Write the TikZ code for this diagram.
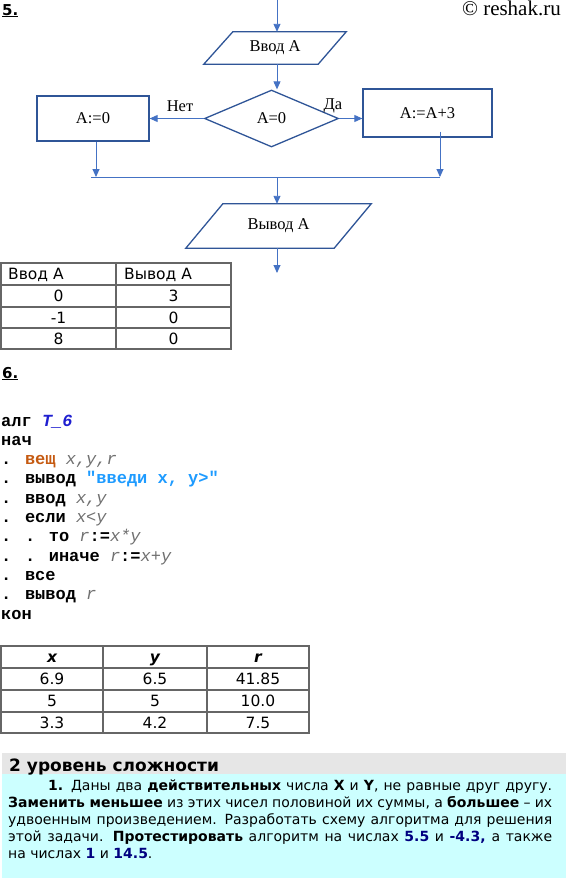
\documentclass[tikz,border=0pt]{standalone}
\usepackage{fontspec}
\setmainfont{Liberation Serif}
\newfontfamily\verdana{DejaVu Sans}
\newfontfamily\courier{Liberation Mono}
\usepackage{xcolor}
\usetikzlibrary{arrows.meta, shapes.geometric, positioning, calc}
\definecolor{flowdark}{HTML}{2F5597}
\definecolor{flowline}{HTML}{4472C4}
\definecolor{gridgray}{HTML}{666666}
\definecolor{kwbrown}{HTML}{C55A11}
\definecolor{algblue}{HTML}{1F1FD0}
\definecolor{strblue}{HTML}{1E9BFF}
\definecolor{vargray}{HTML}{707070}
\definecolor{numnavy}{HTML}{000080}
\definecolor{headgray}{HTML}{E6E6E6}
\definecolor{taskcyan}{HTML}{CCFFFF}
\newcommand{\kw}[1]{\textbf{#1}}
\newcommand{\var}[1]{{\color{vargray}\itshape #1}}
\newcommand{\num}[1]{{\color{numnavy}\bfseries #1}}

\begin{document}
\begin{tikzpicture}[x=1pt, y=-1pt,
    block/.style={rectangle, draw=flowdark, line width=1.3pt, inner sep=0pt},
    io/.style={rectangle, inner sep=0pt},
    iobox/.style={draw=flowdark, line width=1.3pt, line join=miter},
    decision/.style={diamond, draw=flowdark, line width=1.3pt, inner sep=0pt, minimum width=134pt, minimum height=57pt},
    flow/.style={-{Triangle[length=8pt, width=7pt]}, flowline, line width=0.9pt},
    joinline/.style={flowline, line width=0.9pt},
    cell/.style={font=\verdana\fontsize{15.5}{18}\selectfont, inner sep=0pt, text height=11pt, text depth=0pt},
    tabline/.style={draw=gridgray, line width=1.1pt},
    codeline/.style={anchor=base west, inner sep=0pt, font=\courier\fontsize{17}{19}\selectfont},
    task/.style={anchor=base west, inner sep=0pt, font=\verdana\fontsize{14}{17}\selectfont},
    font=\fontsize{16.5}{19}\selectfont]
\useasboundingbox (0,0) rectangle (566,878);

% task 5: flowchart
\node[anchor=base west, inner sep=0pt, font=\verdana\bfseries\fontsize{15}{18}\selectfont] (num5) at (2,15) {\underline{5.}};
\node[anchor=base east, inner sep=0pt, font=\fontsize{21}{24}\selectfont] (site) at (561,16) {© reshak.ru};

\node[io, minimum width=142pt, minimum height=32pt] (vvod) at (275,48) {Ввод А};
\draw[iobox] ($(vvod.north west)+(29,0)$) -- (vvod.north east) -- ($(vvod.south east)+(-28,0)$) -- (vvod.south west) -- cycle;
\node[decision] (test) at (271.5,118.5) {A=0};
\node[block, minimum width=112pt, minimum height=45pt] (zero) at (93,118.5) {A:=0};
\node[block, minimum width=129pt, minimum height=48pt] (plus) at (427.5,113) {A:=A+3};
\node[io, minimum width=185pt, minimum height=44pt] (vyvod) at (278.5,226) {Вывод А};
\draw[iobox] ($(vyvod.north west)+(37,0)$) -- (vyvod.north east) -- ($(vyvod.south east)+(-37,0)$) -- (vyvod.south west) -- cycle;
\node (no) at (180,106) {Нет};
\node (yes) at (333,106) {Да};

\coordinate (top) at (277,0);
\coordinate (mL) at (96,177);
\coordinate (mR) at (440,177);
\coordinate (mC) at (277,177);
\coordinate (jL) at (91,177);
\coordinate (fin) at (277,273);

\draw[flow] (top) -- (top |- vvod.north);
\draw[flow] (vvod.south -| top) -- (top |- test.north);
\draw[flow] (test.west) -- (zero.east);
\draw[flow] (test.east) -- (test.east -| plus.west);
\draw[flow] (zero.south -| mL) -- (mL);
\draw[flow] ($(plus.south -| mR)+(0,-6)$) -- (mR);
\draw[joinline] (jL) -- (mR);
\draw[flow] (mC) -- (mC |- vyvod.north);
\draw[flow] (vyvod.south -| mC) -- (fin);

% table for task 5
\draw[tabline] (1,263) rectangle (231,349);
\foreach \y in {285,307,328} \draw[tabline] (1,\y) -- (231,\y);
\draw[tabline] (116,263) -- (116,349);
\node[cell, anchor=west] (inh) at (8,274) {Ввод А};
\node[cell, anchor=west] (outh) at (124,274) {Вывод А};
\foreach \a/\b/\yy [count=\i] in {0/3/296, -1/0/317.5, 8/0/338.5} {
  \node[cell] (in\i) at (58.5,\yy) {\a};
  \node[cell] (out\i) at (173.5,\yy) {\b};
}

% task 6: algorithm
\node[anchor=base west, inner sep=0pt, font=\verdana\bfseries\fontsize{15}{18}\selectfont] (num6) at (2,378) {\underline{6.}};
\node[codeline] (l1) at (1,426) {\kw{алг} {\color{algblue}\bfseries\itshape T\_6}};
\node[codeline] (l2) at (1,445.3) {\kw{нач}};
\node[codeline] (l3) at (1,464.6) {\kw{.} {\color{kwbrown}\bfseries вещ} \var{x,y,r}};
\node[codeline] (l4) at (1,483.9) {\kw{. вывод} {\color{strblue}\bfseries "введи x, y>"}};
\node[codeline] (l5) at (1,503.2) {\kw{. ввод} \var{x,y}};
\node[codeline] (l6) at (1,522.5) {\kw{. если} \var{x<y}};
\node[codeline] (l7) at (1,541.8) {\kw{. . то} \var{r}\kw{:=}\var{x*y}};
\node[codeline] (l8) at (1,561.1) {\kw{. . иначе} \var{r}\kw{:=}\var{x+y}};
\node[codeline] (l9) at (1,580.4) {\kw{. все}};
\node[codeline] (l10) at (1,599.7) {\kw{. вывод} \var{r}};
\node[codeline] (l11) at (1,619) {\kw{кон}};

% table for task 6
\draw[tabline] (1,646) rectangle (309,733);
\foreach \y in {668,690,712} \draw[tabline] (1,\y) -- (309,\y);
\foreach \x in {103,207} \draw[tabline] (\x,646) -- (\x,733);
\node[cell, font=\verdana\bfseries\itshape\fontsize{15.5}{18}\selectfont] (hx) at (52,657) {x};
\node[cell, font=\verdana\bfseries\itshape\fontsize{15.5}{18}\selectfont] (hy) at (155,657) {y};
\node[cell, font=\verdana\bfseries\itshape\fontsize{15.5}{18}\selectfont] (hr) at (258,657) {r};
\foreach \a/\b/\c/\yy [count=\i] in {6.9/6.5/41.85/679, 5/5/10.0/701, 3.3/4.2/7.5/722.5} {
  \node[cell] (x\i) at (52,\yy) {\a};
  \node[cell] (y\i) at (155,\yy) {\b};
  \node[cell] (r\i) at (258,\yy) {\c};
}

% level 2 task
\fill[headgray] (2,753) rectangle (566,774);
\fill[taskcyan] (2,774) rectangle (566,878);
\node[task, font=\verdana\bfseries\fontsize{17}{20}\selectfont] (level) at (9,771) {2 уровень сложности};
\node[task] (t1) at (48,790) {\makebox[504pt][s]{\textbf{1.} Даны два \textbf{действительных} числа \textbf{X} и \textbf{Y}, не равные друг другу.}};
\node[task] (t2) at (8,807) {\makebox[544pt][s]{\textbf{Заменить меньшее} из этих чисел половиной их суммы, а \textbf{большее} – их}};
\node[task] (t3) at (8,824) {\makebox[544pt][s]{удвоенным произведением. Разработать схему алгоритма для решения}};
\node[task] (t4) at (8,841) {\makebox[544pt][s]{этой задачи. \textbf{Протестировать} алгоритм на  числах \num{5.5} и \num{-4.3,} а также}};
\node[task] (t5) at (8,858) {на числах \num{1} и \num{14.5}.};
\end{tikzpicture}
\end{document}
